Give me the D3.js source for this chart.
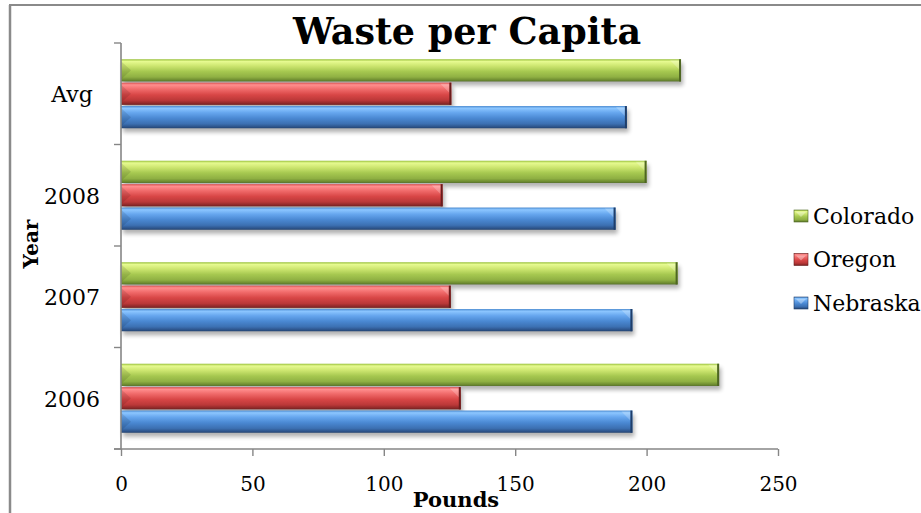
<!DOCTYPE html>
<html>
<head>
<meta charset="utf-8">
<script src="https://cdn.jsdelivr.net/npm/d3@7"></script>
<style>
  html, body { margin: 0; padding: 0; background: #fff; }
  svg { display: block; }
</style>
</head>
<body>
<svg id="chart" width="921" height="513"></svg>
<script>
// Waste per capita (pounds) by year and state
const categories = ["2006", "2007", "2008", "Avg"];
const seriesNames = ["Colorado", "Oregon", "Nebraska"];
const colorado = [227.6, 211.8, 200.0, 213.1];
const oregon   = [129.3, 125.5, 122.4, 125.7];
const nebraska = [194.6, 194.6, 188.2, 192.5];
const xTicks = [0, 50, 100, 150, 200, 250];

const seriesValues = { Colorado: colorado, Oregon: oregon, Nebraska: nebraska };

// bevelled bar shading per series: [offset, colour]
const palette = {
  Colorado: { edge: "#4e6622", stops: [[0, "#98c03a"], [0.1, "#e6fa90"], [0.3, "#cde670"], [0.55, "#a6c850"], [0.8, "#8fb043"], [0.94, "#6c8a30"], [1, "#55702a"]] },
  Oregon:   { edge: "#6a1c1c", stops: [[0, "#d85050"], [0.1, "#ff8e8e"], [0.3, "#f06a6a"], [0.55, "#d84646"], [0.8, "#ba3838"], [0.94, "#8c2828"], [1, "#6e2020"]] },
  Nebraska: { edge: "#1f3e6a", stops: [[0, "#4a8ad0"], [0.1, "#8cc6ff"], [0.3, "#66a6ee"], [0.55, "#4a88d2"], [0.8, "#3c70b2"], [0.94, "#2c5288"], [1, "#244470"]] }
};

const svg = d3.select("#chart");
const W = 921, H = 513;
const plot = { left: 121, right: 778, top: 43, bottom: 449 };

const defs = svg.append("defs");
seriesNames.forEach((s, i) => {
  const g = defs.append("linearGradient")
    .attr("id", "grad" + i).attr("x1", 0).attr("y1", 0).attr("x2", 0).attr("y2", 1);
  palette[s].stops.forEach(([o, c]) => g.append("stop").attr("offset", o).attr("stop-color", c));
});
const blur = defs.append("filter").attr("id", "shadow")
  .attr("x", "-5%").attr("y", "-50%").attr("width", "110%").attr("height", "200%");
blur.append("feGaussianBlur").attr("stdDeviation", 2.2);

// outer frame (top and left edges visible)
svg.append("line").attr("x1", 9).attr("x2", W).attr("y1", 5).attr("y2", 5)
  .attr("stroke", "#8a8a8a").attr("stroke-width", 2);
svg.append("line").attr("x1", 10).attr("x2", 10).attr("y1", 5).attr("y2", H)
  .attr("stroke", "#8a8a8a").attr("stroke-width", 2.5);

// scales
const x = d3.scaleLinear().domain([0, 250]).range([plot.left, plot.right]);
const y = d3.scaleBand().domain(categories.slice().reverse())
  .range([plot.top, plot.bottom]).paddingInner(0.32).paddingOuter(0.16);
const ySub = d3.scaleBand().domain(seriesNames).range([0, y.bandwidth()]).paddingInner(0.05);

// bars
const rows = [];
categories.forEach((c, ci) => {
  seriesNames.forEach((s, si) => rows.push({ cat: c, series: s, si, value: seriesValues[s][ci] }));
});

const barG = svg.append("g");
// soft drop shadows first
barG.selectAll("rect.shadow").data(rows).join("rect")
  .attr("class", "shadow")
  .attr("x", x(0) + 2)
  .attr("y", d => y(d.cat) + ySub(d.series) + 4)
  .attr("width", d => x(d.value) - x(0))
  .attr("height", ySub.bandwidth())
  .attr("fill", "#000").attr("opacity", 0.3)
  .attr("filter", "url(#shadow)");

const bars = barG.selectAll("g.bar").data(rows).join("g").attr("class", "bar");
bars.append("rect")
  .attr("x", x(0))
  .attr("y", d => y(d.cat) + ySub(d.series))
  .attr("width", d => x(d.value) - x(0))
  .attr("height", ySub.bandwidth())
  .attr("fill", d => `url(#grad${d.si})`);
// left-end bevel
bars.append("path")
  .attr("d", d => {
    const y0 = y(d.cat) + ySub(d.series), h = ySub.bandwidth(), x0 = x(0);
    return `M${x0},${y0 + 2}L${x0 + 10},${y0 + h * 0.5}L${x0},${y0 + h - 2}Z`;
  })
  .attr("fill", "#000").attr("opacity", 0.1);
// right-end bevel highlight
bars.append("path")
  .attr("d", d => {
    const y0 = y(d.cat) + ySub(d.series), x1 = x(d.value);
    return `M${x1 - 11},${y0 + 1}L${x1 - 2},${y0 + 1}L${x1 - 2},${y0 + 10}Z`;
  })
  .attr("fill", "#fff").attr("opacity", 0.22);
// right-end dark edge
bars.append("rect")
  .attr("x", d => x(d.value) - 2)
  .attr("y", d => y(d.cat) + ySub(d.series))
  .attr("width", 2)
  .attr("height", ySub.bandwidth())
  .attr("fill", d => palette[d.series].edge);

// axes
const axisColor = "#868686";
const serif = "'DejaVu Serif', serif";

// y axis: line, ticks on category boundaries, labels centred on categories
const yAxisG = svg.append("g");
yAxisG.append("line").attr("x1", plot.left).attr("x2", plot.left)
  .attr("y1", plot.top).attr("y2", plot.bottom)
  .attr("stroke", axisColor).attr("stroke-width", 1.6);
const bounds = d3.range(categories.length + 1).map(i => plot.top + i * y.step());
yAxisG.selectAll("line.tick").data(bounds).join("line")
  .attr("class", "tick")
  .attr("x1", plot.left - 7).attr("x2", plot.left)
  .attr("y1", d => d).attr("y2", d => d)
  .attr("stroke", axisColor).attr("stroke-width", 1.4);
yAxisG.selectAll("text").data(categories).join("text")
  .attr("x", 72)
  .attr("y", d => y(d) + y.bandwidth() / 2 + 1)
  .attr("dy", "0.35em")
  .attr("text-anchor", "middle")
  .attr("font-family", serif).attr("font-size", 22).attr("fill", "#000")
  .text(d => d);

// x axis
const xAxis = d3.axisBottom(x).tickValues(xTicks).tickSize(7).tickSizeOuter(0).tickFormat(d3.format("d"));
const xAxisG = svg.append("g").attr("transform", `translate(0,${plot.bottom})`).call(xAxis);
xAxisG.select(".domain").attr("stroke", axisColor).attr("stroke-width", 1.6)
  .attr("d", `M${plot.left - 7},0H${plot.right}`);
xAxisG.selectAll(".tick line").attr("stroke", axisColor).attr("stroke-width", 1.4);
xAxisG.selectAll(".tick text")
  .attr("y", 35).attr("dy", "0.35em")
  .attr("font-family", serif).attr("font-size", 20).attr("fill", "#000");

// titles
svg.append("text")
  .attr("x", 467).attr("y", 44)
  .attr("text-anchor", "middle")
  .attr("font-family", serif).attr("font-weight", "bold").attr("font-size", 36.5)
  .attr("fill", "#000")
  .text("Waste per Capita");

svg.append("text")
  .attr("transform", "translate(38,244) rotate(-90)")
  .attr("text-anchor", "middle")
  .attr("font-family", serif).attr("font-weight", "bold").attr("font-size", 20)
  .text("Year");

svg.append("text")
  .attr("x", 456).attr("y", 507)
  .attr("text-anchor", "middle")
  .attr("font-family", serif).attr("font-weight", "bold").attr("font-size", 21)
  .text("Pounds");

// legend
const legendY = [216, 259.5, 303];
const leg = svg.append("g").selectAll("g").data(seriesNames).join("g")
  .attr("transform", (d, i) => `translate(794,${legendY[i]})`);
leg.append("rect").attr("x", 0).attr("y", -6).attr("width", 14).attr("height", 12)
  .attr("fill", (d, i) => `url(#grad${i})`)
  .attr("stroke", d => palette[d].edge).attr("stroke-width", 0.6);
leg.append("path").attr("d", "M2,-4L12,-4L7,1Z").attr("fill", "#fff").attr("opacity", 0.35);
leg.append("text").attr("x", 19).attr("y", 0).attr("dy", "0.35em")
  .attr("font-family", serif).attr("font-size", 22).attr("fill", "#000")
  .text(d => d);
</script>
</body>
</html>
